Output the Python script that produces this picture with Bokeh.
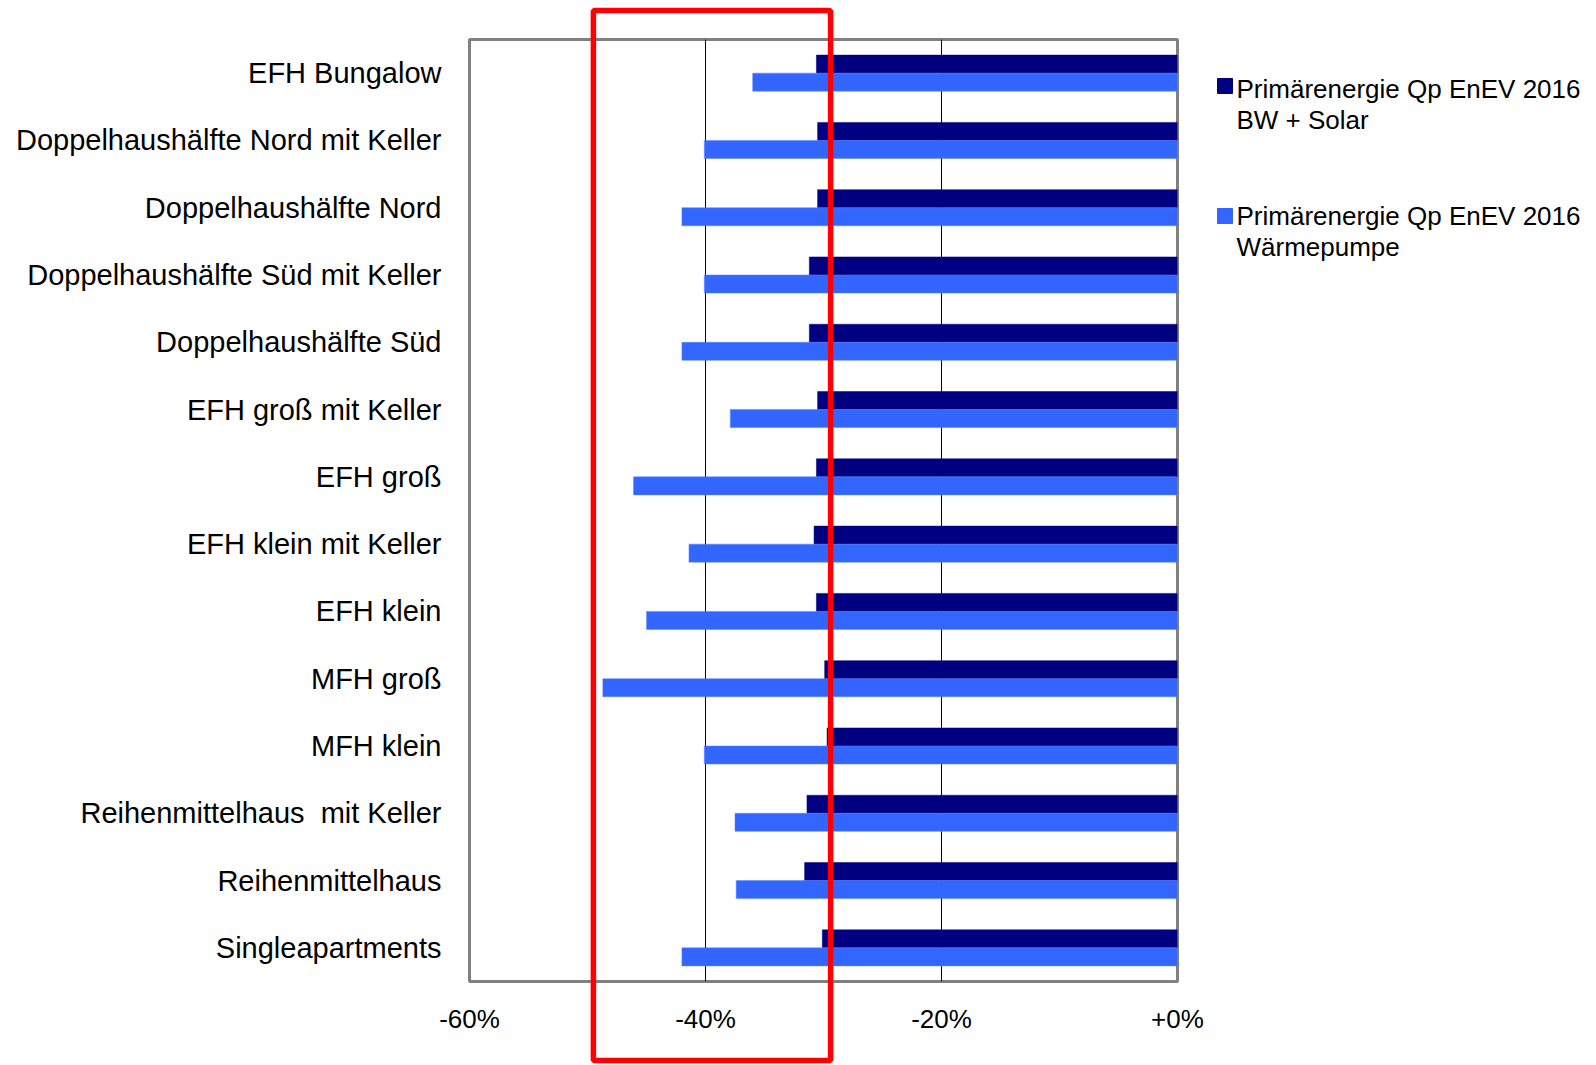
from bokeh.plotting import figure
from bokeh.models import FactorRange, Range1d, FixedTicker, ColumnDataSource
from bokeh.core.properties import value
from bokeh.transform import dodge
from bokeh.embed import file_html
from bokeh.resources import INLINE

categories = [
    "EFH Bungalow",
    "Doppelhaushälfte Nord mit Keller",
    "Doppelhaushälfte Nord",
    "Doppelhaushälfte Süd mit Keller",
    "Doppelhaushälfte Süd",
    "EFH groß mit Keller",
    "EFH groß",
    "EFH klein mit Keller",
    "EFH klein",
    "MFH groß",
    "MFH klein",
    "Reihenmittelhaus\u00a0 mit Keller",
    "Reihenmittelhaus",
    "Singleapartments",
]
bw_solar = [-30.6, -30.5, -30.5, -31.2, -31.2, -30.5, -30.6, -30.8, -30.6, -29.9,
            -29.7, -31.4, -31.6, -30.1]
waermepumpe = [-36.0, -40.1, -42.0, -40.1, -42.0, -37.9, -46.1, -41.4, -45.0, -48.7,
               -40.1, -37.5, -37.4, -42.0]
series_line1 = ["Primärenergie Qp EnEV 2016", "Primärenergie Qp EnEV 2016"]
series_line2 = ["BW + Solar", "Wärmepumpe"]
series_colors = ["#000080", "#3366FF"]
tick_values = [-60, -40, -20, 0]
tick_labels = ["-60%", "-40%", "-20%", "+0%"]
highlight_range = [-49.5, -29.4]

FONT = "Liberation Sans"
N = len(categories)
PX_X = 708 / 60.0       # pixels per percent
PX_Y = 942 / N          # pixels per category

src = ColumnDataSource(dict(cat=categories, solar=bw_solar, wp=waermepumpe))

p = figure(width=1596, height=1065, output_backend="svg", toolbar_location=None,
           x_range=Range1d(-60, 0),
           y_range=FactorRange(factors=list(reversed(categories)), range_padding=0),
           min_border_left=469, min_border_right=419, min_border_top=39,
           min_border_bottom=84)

p.background_fill_color = "white"
p.border_fill_color = "white"
p.outline_line_color = "#808080"
p.outline_line_width = 3

r1 = p.hbar(y=dodge("cat", 0.134, range=p.y_range), height=0.268, left="solar", right=0,
            fill_color=series_colors[0], line_color=series_colors[0], line_width=0.5,
            source=src)
r2 = p.hbar(y=dodge("cat", -0.134, range=p.y_range), height=0.268, left="wp", right=0,
            fill_color=series_colors[1], line_color="#5a82ff", line_width=0.5,
            source=src)

# grid
p.ygrid.grid_line_color = None
p.xgrid.ticker = FixedTicker(ticks=[-40, -20])
p.xgrid.grid_line_color = "black"
p.xgrid.grid_line_width = 1

# x axis
p.xaxis.ticker = FixedTicker(ticks=tick_values)
p.xaxis.major_label_overrides = {float(v): l for v, l in zip(tick_values, tick_labels)}
p.xaxis.axis_line_color = None
p.xaxis.major_tick_line_color = None
p.xaxis.minor_tick_line_color = None
p.xaxis.major_label_text_font = FONT
p.xaxis.major_label_text_font_size = "26px"
p.xaxis.major_label_text_color = "black"
p.xaxis.major_label_standoff = 16

# y axis
p.yaxis.axis_line_color = None
p.yaxis.major_tick_line_color = None
p.yaxis.minor_tick_line_color = None
p.yaxis.major_label_text_font = FONT
p.yaxis.major_label_text_font_size = "29px"
p.yaxis.major_label_text_color = "black"
p.yaxis.major_label_standoff = 22


def ypix(py):
    """canvas pixel row -> categorical synthetic coordinate"""
    return N - (py - 39) / PX_Y


def xpix(px):
    """canvas pixel column -> percent coordinate"""
    return (px - 1177) / PX_X


# legend (drawn in the right margin on the overlay level)
p.rect(x=[xpix(1224.5)] * 2, y=[ypix(85.5), ypix(215.5)], width=15, height=15,
       width_units="screen", height_units="screen", fill_color=series_colors,
       line_color=series_colors, level="overlay")
p.text(x=[xpix(1236)] * 4,
       y=[ypix(88.5), ypix(119.5), ypix(215), ypix(246.5)],
       text=[series_line1[0], series_line2[0], series_line1[1], series_line2[1]],
       text_font=value(FONT), text_font_size="26px", text_color="black",
       text_baseline="middle", text_align="left", level="overlay")

# red highlight box
p.quad(left=[highlight_range[0]], right=[highlight_range[1]],
       top=[ypix(10)], bottom=[ypix(1060)], fill_alpha=0,
       line_color="#FF0000", line_width=5.5, level="overlay")

open("out.html", "w").write(file_html(p, INLINE))
